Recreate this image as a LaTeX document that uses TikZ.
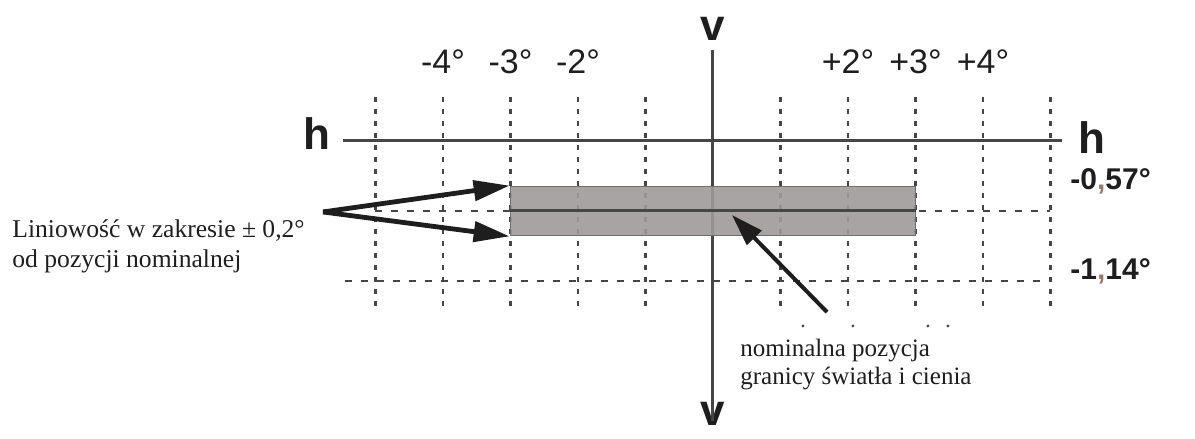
\documentclass[tikz,border=0pt]{standalone}
\usepackage{fontspec}
\setmainfont{Liberation Serif}
\setsansfont{Liberation Sans}
\usetikzlibrary{arrows.meta,positioning}
\definecolor{HLcolorLine}{RGB}{70,70,70}
\definecolor{HLcolorBand}{RGB}{160,154,154}
\definecolor{HLcolorEdge}{RGB}{115,110,110}
\definecolor{HLcolorText}{RGB}{30,30,30}
\definecolor{HLcolorComma}{RGB}{150,118,105}

\begin{document}
\begin{tikzpicture}[
    x=33.75pt, y=61.4pt,
    axis/.style={line width=1.5pt, draw=HLcolorLine},
    grid/.style={line width=1.4pt, draw=HLcolorLine, dash pattern=on 2.5pt off 3.5pt},
    level/.style={line width=1.4pt, draw=HLcolorLine, dash pattern=on 3.5pt off 4.5pt},
    deg/.style={font=\sffamily\fontsize{17}{20}\selectfont, text=HLcolorText, anchor=base, inner sep=0pt},
    axlbl/.style={font=\sffamily\bfseries\fontsize{22}{26}\selectfont, text=HLcolorText, anchor=base, inner sep=0pt},
    lvl/.style={font=\sffamily\bfseries\fontsize{15}{18}\selectfont, text=HLcolorText, anchor=base west, inner sep=0pt},
    note/.style={font=\fontsize{12.8}{15}\selectfont, text=HLcolorText, align=left, anchor=base west, inner sep=0pt},
    band/.style={draw=HLcolorEdge, fill=HLcolorBand, fill opacity=0.9, line width=0.8pt,
                 minimum width=202.5pt, minimum height=24.56pt, inner sep=0pt},
    pointer/.style={line width=2.4pt, draw=HLcolorText, -{Triangle[length=18pt,width=10pt]}},
]
\useasboundingbox (-10.563,1.148) rectangle (7.141,-2.4267);
\coordinate (O) at (0,0);

% grid, one line per degree
\foreach \k in {-5,...,-1,1,2,...,5}
    \draw[grid] (\k,0.36) -- (\k,-1.39);
\draw[level] (-5,-0.57) -- (5,-0.57);
\draw[level] (-5.45,-1.14) -- (5,-1.14);

% axes
\node[axlbl] (hl) at (-5.867,-0.073) {h};
\node[axlbl] (hr) at (5.615,-0.098) {h};
\node[axlbl] (vt) at (0,0.822) {v};
\node[axlbl] (vb) at (0,-2.313) {v};
\draw[axis] ([xshift=6pt]hl.east |- O) -- ([xshift=-8pt]hr.west |- O);
\draw[axis] ([yshift=-5pt]vt.south) -- ([yshift=-10pt]vb.north);

% degree labels
\foreach \d in {2,3,4} {
    \node[deg] (dm\d) at (-\d,0.546) {-\d°};
    \node[deg] (dp\d) at (\d,0.546) {+\d°};
}
\node[lvl] (l057) at (5.289,-0.399) {-0{\color{HLcolorComma},}57°};
\node[lvl] (l114) at (5.289,-1.132) {-1{\color{HLcolorComma},}14°};

% band of +-0.2 deg round the nominal cut-off
\node[band] (band) at (0,-0.57) {};
\draw[axis] (band.west) -- (band.east);

% notes (base anchor sits on the last line)
\node[note] (lin) at (-10.385,-1.034) {Liniowość w zakresie ± 0,2°\\od pozycji nominalnej};
\coordinate (fork) at (-5.778,-0.578);
\draw[pointer] (fork) -- (band.north west);
\draw[pointer] (fork) -- (band.south west);

\node[note, font=\fontsize{12.5}{14}\selectfont] (nom) at (0.4,-1.987) {nominalna pozycja\\granicy światła i cienia};
\coordinate (tail) at (1.689,-1.393);
\coordinate (tip) at (0.281,-0.603);
\draw[pointer, line width=2pt, -{Triangle[length=16pt,width=10pt]}] (tail) -- (tip);

\foreach \x in {1.333,2.074,3.185,3.481}
    \fill[HLcolorLine] (\x,-1.506) circle (0.8pt);
\end{tikzpicture}
\end{document}
